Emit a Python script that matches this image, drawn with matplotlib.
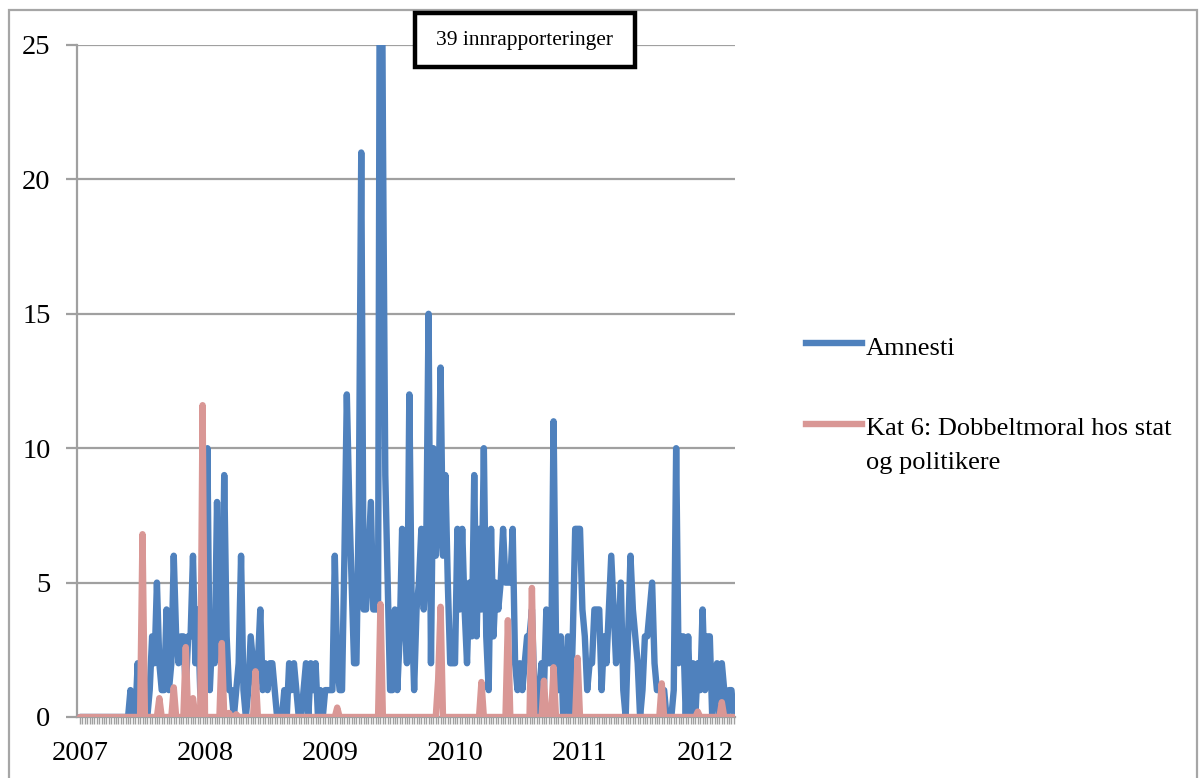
import matplotlib
matplotlib.use("Agg")
import matplotlib.pyplot as plt
from matplotlib.lines import Line2D
from matplotlib.patches import Rectangle
import numpy as np

plt.rcParams['font.family'] = ['Liberation Serif', 'DejaVu Serif']

# Weekly counts, first week of 2007 onwards
amnesti_2007 = [0] * 21 + [1, 0, 0, 2, 0, 0, 0, 0, 1, 3, 2, 5, 2, 1, 1, 4, 1, 2, 6,
                           3, 2, 3, 3, 1, 3, 3, 6, 2, 4, 1, 0]
amnesti_2008 = [1, 10, 1, 3, 2, 8, 3, 2, 9, 3, 1, 1, 0, 1, 2, 6, 1, 0, 1, 3,
                2, 1, 2, 4, 1, 2, 1, 2, 2, 1, 0, 0, 0, 1, 0, 2, 1, 2, 1, 0,
                0, 1, 2, 0, 2, 1, 2, 0, 1, 0, 1, 1]
amnesti_2009 = [1, 1, 6, 2, 1, 1, 6, 12, 8, 5, 2, 2, 8, 21, 4, 4, 6, 8, 4, 4,
                4, 39, 22, 9, 5, 1, 1, 4, 1, 3, 7, 4, 2, 12, 4, 1, 4, 5, 7, 4,
                6, 15, 2, 10, 6, 7, 13, 6, 9, 5, 2, 2]
amnesti_2010 = [2, 7, 4, 7, 4, 2, 5, 3, 9, 3, 7, 4, 10, 3, 1, 7, 3, 5, 4, 5,
                7, 5, 5, 5, 7, 2, 1, 2, 1, 2, 3, 3, 4, 1, 0, 1, 2, 1, 4, 2,
                2, 11, 3, 1, 3, 0, 1, 3, 0, 3, 7, 7]
amnesti_2011 = [7, 4, 3, 1, 2, 2, 4, 4, 4, 1, 3, 2, 4, 6, 4, 2, 3, 5, 1, 0,
                3, 6, 4, 3, 2, 0, 1, 3, 3, 4, 5, 2, 1, 1, 1, 1, 0, 0, 0, 1,
                10, 2, 3, 3, 0, 3, 0, 2, 0, 2, 1, 4]
amnesti_2012 = [1, 3, 3, 0, 1, 2, 0, 2, 1, 0, 1, 1, 0]

amnesti = amnesti_2007 + amnesti_2008 + amnesti_2009 + amnesti_2010 + amnesti_2011 + amnesti_2012

# Category 6 series (non-zero weeks only)
kat6_peaks = {26: 6.8, 33: 0.7, 39: 1.1, 44: 2.6, 47: 0.7, 51: 11.6, 59: 2.75,
              62: 0.15, 65: 0.1, 73: 1.7, 107: 0.35, 125: 4.2, 149: 1.4, 150: 4.1,
              167: 1.3, 178: 3.6, 188: 4.8, 193: 1.35, 197: 1.85, 207: 2.2,
              242: 1.25, 257: 0.2, 267: 0.55}
kat6 = [kat6_peaks.get(i, 0.0) for i in range(len(amnesti))]

year_labels = ['2007', '2008', '2009', '2010', '2011', '2012']
y_ticks = [0, 5, 10, 15, 20, 25]
series_names = [['Amnesti'], ['Kat 6: Dobbeltmoral hos stat', 'og politikere']]
note_text = '39 innrapporteringer'

blue = '#4F81BD'
pink = '#D99795'
grid_gray = '#A0A0A0'

W, H = 1200, 778
weeks = 2007 + np.arange(len(amnesti)) / 52.0

fig = plt.figure(figsize=(12, 7.78), dpi=100)
ax = fig.add_axes([77 / W, 61 / H, 658 / W, 672 / H])

line_kw = dict(lw=4.6, solid_capstyle='round', solid_joinstyle='round')
ax.plot(weeks, amnesti, color=blue, zorder=3, **line_kw)
ax.plot(weeks, kat6, color=pink, zorder=4, **line_kw)

ax.set_xlim(2007 - 3 / 125, 2007 - 3 / 125 + 658 / 125)
ax.set_ylim(0, 25)

ax.set_yticks(y_ticks)
ax.set_yticklabels([str(v) for v in y_ticks])
ax.yaxis.grid(True, color=grid_gray, lw=1.6, zorder=1)
ax.set_axisbelow(True)

ax.set_xticks([2007 + k for k in range(len(year_labels))])
ax.set_xticklabels(year_labels)
ax.set_xticks(weeks, minor=True)

ax.tick_params(axis='y', which='major', length=8, width=1.6, color=grid_gray,
               labelsize=20.5, pad=11)
ax.tick_params(axis='x', which='both', length=5, width=1.0, color=grid_gray,
               labelsize=20.5, pad=12)

for side in ['top', 'right']:
    ax.spines[side].set_visible(False)
for side in ['left', 'bottom']:
    ax.spines[side].set_color(grid_gray)
    ax.spines[side].set_linewidth(1.6)

# Annotation box at the top of the plot
fig.add_artist(Rectangle((415 / W, 1 - 67 / H), 220 / W, 54 / H, transform=fig.transFigure,
                         fc='white', ec='black', lw=3.2, zorder=6))
fig.text(525 / W, 1 - 41 / H, note_text, ha='center', va='center', fontsize=15.5,
         zorder=7)

# Legend drawn to the right of the plot
legend_rows = [(343, 349, blue, series_names[0]), (424, 429, pink, series_names[1])]
for yline, ytext, col, lines in legend_rows:
    yfig = 1 - yline / H
    fig.add_artist(Line2D([806 / W, 862 / W], [yfig, yfig], color=col, lw=4.6,
                          transform=fig.transFigure))
    for k, txt in enumerate(lines):
        fig.text(866 / W, 1 - (ytext + 34 * k) / H, txt, ha='left', va='center',
                 fontsize=19)

# Outer chart frame
fig.add_artist(Rectangle((9 / W, -0.05), 1188 / W, 1.05 - 10 / H,
                         transform=fig.transFigure, fill=False, ec='#A6A6A6', lw=1.6))

fig.savefig('out.png', dpi=100)
